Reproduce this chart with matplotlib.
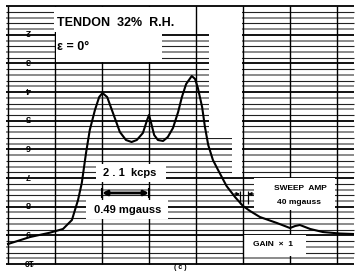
import matplotlib.pyplot as plt
from matplotlib.patches import Rectangle

# trace: x in major divisions, y in minor grid lines
field_div = [0.00, 0.47, 0.89, 1.17, 1.36, 1.49, 1.57, 1.66, 1.74, 1.85, 1.94, 2.01,
             2.11, 2.21, 2.38, 2.51, 2.63, 2.74, 2.87, 2.96, 3.00, 3.04, 3.11, 3.19,
             3.30, 3.40, 3.51, 3.62, 3.70, 3.79, 3.91, 3.98, 4.04, 4.13, 4.19, 4.26,
             4.36, 4.47, 4.65, 4.83, 5.00, 5.15, 5.36, 5.72, 6.00, 6.11, 6.21, 6.32,
             6.43, 6.70, 7.06, 7.34]
signal = [3.49, 4.71, 5.46, 6.11, 7.68, 11.17, 14.14, 19.37, 23.39, 26.88, 29.14, 29.84,
          29.14, 26.88, 23.04, 21.64, 21.29, 21.64, 22.86, 25.13, 26.00, 24.78, 22.51, 21.64,
          21.47, 22.16, 23.73, 26.53, 29.14, 31.41, 32.81, 32.29, 30.72, 27.40, 23.92, 20.77,
          18.15, 16.40, 13.61, 11.69, 10.12, 9.25, 8.20, 7.16, 6.28, 6.63, 6.81, 6.46,
          6.11, 5.58, 5.32, 5.24]

scale_levels = [0, 5, 10, 15, 20, 25, 30, 35, 40]
scale_labels = ['10', '9', '8', '7', '6', '5', '4', '3', '2']
n_lines = 45
n_major = 7


def P(x, y):
    # pixel position on the scan -> chart coordinates (layout helper only)
    return (x - 8) / 47.0, (264 - y) / 5.73


fig = plt.figure(figsize=(3.62, 2.71), dpi=100)
ax = fig.add_axes([0, 0, 1, 1])
x0, y0 = P(0, 271)
x1, y1 = P(362, 0)
ax.set_xlim(x0, x1)
ax.set_ylim(y0, y1)
ax.axis('off')

# chart paper
gl, gr = P(6, 0)[0], P(354, 0)[0]
for k in range(n_lines + 1):
    if k % 5 == 0:
        ax.hlines(k, gl, gr, color='k', lw=1.3, zorder=1)
    elif k % 2:
        ax.hlines(k, gl, gr, color='#8a8a8a', lw=1.4, zorder=1)
    else:
        ax.hlines(k, gl, gr, color='#222222', lw=0.8, zorder=1)
for i in range(n_major + 1):
    z = 3 if i in (0, 4, 5) else 1
    ax.vlines(i, 0, n_lines, color='k', lw=1.0, zorder=z)

for lv, lb in zip(scale_levels, scale_labels):
    ax.text(P(28, 0)[0], lv + 0.5, lb, rotation=180, ha='center', va='center',
            fontsize=6.5, fontweight='bold', family='Liberation Sans', zorder=3)

# blanked-out areas for the lettering
boxes = [(54, 7, 242, 32), (56, 32, 162, 62), (209, 7, 242, 138), (232, 138, 242, 177),
         (96, 164, 166, 182), (86, 200, 168, 219), (254, 178, 335, 210), (244, 235, 306, 256)]
for bx0, by0, bx1, by1 in boxes:
    a, b = P(bx0, by1)
    c, d = P(bx1, by0)
    ax.add_patch(Rectangle((a, b), c - a, d - b, fc='white', ec='none', zorder=2))

ax.plot(field_div, signal, color='k', lw=1.5, zorder=4)

font = dict(family='Liberation Sans', fontweight='bold', zorder=5)
ax.text(*P(57, 23), 'TENDON  32%  R.H.', fontsize=9, va='center', ha='left', **font)
ax.text(*P(57, 47), 'ε = 0°', fontsize=9, va='center', ha='left', **font)
ax.text(*P(130, 173), '2 . 1  kcps', fontsize=8, va='center', ha='center', **font)
ax.text(*P(128, 210), '0.49 mgauss', fontsize=8, va='center', ha='center', **font)
ax.text(*P(300, 188), 'SWEEP  AMP', fontsize=6, va='center', ha='center', **font)
ax.text(*P(299, 202), '40 mgauss', fontsize=6, va='center', ha='center', **font)
ax.text(*P(273, 244), 'GAIN  ×  1', fontsize=6, va='center', ha='center', **font)
ax.text(*P(180, 267.5), '( c )', fontsize=5, va='center', ha='center', **font)

# 2.1 kcps span marker
ym = P(0, 193)[1]
ax.annotate('', xy=(3, ym), xytext=(2, ym), zorder=5,
            arrowprops=dict(arrowstyle='<|-|>', color='k', lw=2.0, mutation_scale=7,
                            shrinkA=0, shrinkB=0))
ax.vlines([2, 3], ym - 0.8, ym + 0.8, color='k', lw=1.5, zorder=5)

# sweep amplitude marker
xa, xb = P(240, 0)[0], P(248, 0)[0]
ys = P(0, 198)[1]
ax.vlines([xa, xb], ys - 1.0, ys + 1.2, color='k', lw=0.9, zorder=5)
ax.annotate('', xy=(xa, ys + 0.7), xytext=(xa - 0.12, ys + 0.7), zorder=5,
            arrowprops=dict(arrowstyle='-|>', color='k', lw=0.8, mutation_scale=5,
                            shrinkA=0, shrinkB=0))
ax.annotate('', xy=(xb, ys + 0.7), xytext=(xb + 0.12, ys + 0.7), zorder=5,
            arrowprops=dict(arrowstyle='-|>', color='k', lw=0.8, mutation_scale=5,
                            shrinkA=0, shrinkB=0))

fig.savefig('out.png', dpi=100)
